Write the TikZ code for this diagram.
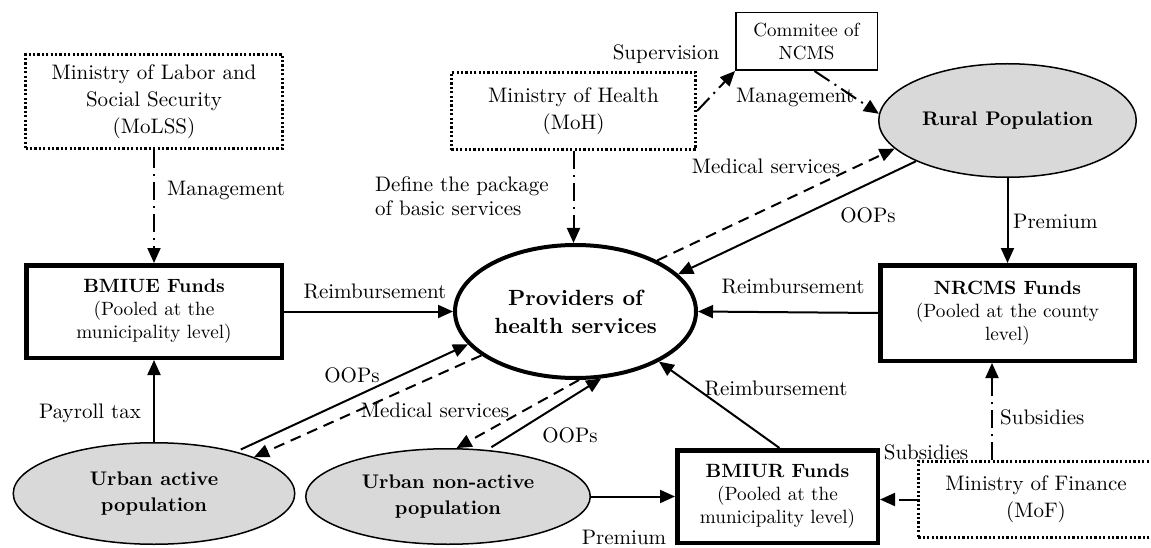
\documentclass[tikz,border=0pt]{standalone}
\usepackage{fontspec}
\setmainfont{lmroman10-regular.otf}[BoldFont=lmroman10-bold.otf, ItalicFont=lmroman10-italic.otf, BoldItalicFont=lmroman10-bolditalic.otf]
\usetikzlibrary{shapes.geometric,arrows.meta}
\definecolor{popgray}{RGB}{217,217,217}
\begin{document}
\begin{tikzpicture}[x=1pt,y=-1pt,
  lab/.style={font=\fontsize{21}{24}\selectfont, inner sep=0pt},
  minbox/.style={draw, line width=2.6pt, dash pattern=on 2.2pt off 2.2pt, align=center,
    font=\fontsize{21}{27}\selectfont, inner sep=0pt},
  fundbox/.style={draw, line width=4.5pt, align=center, font=\fontsize{19.2}{23}\selectfont, inner sep=0pt},
  smallbox/.style={draw, line width=1.5pt, align=center, font=\fontsize{19}{23}\selectfont, inner sep=0pt},
  pop/.style={ellipse, draw, line width=1.5pt, fill=popgray, align=center,
    font=\fontsize{19.7}{26}\selectfont\bfseries, inner sep=0pt},
  provstyle/.style={ellipse, draw, line width=4pt, fill=white, align=center,
    font=\fontsize{22}{28}\selectfont\bfseries, inner sep=0pt},
  arr/.style={line width=2pt, -{Triangle[length=15pt,width=13pt]}},
  dd/.style={arr, dash pattern=on 18pt off 6pt on 2pt off 6pt},
  med/.style={arr, dash pattern=on 11pt off 7pt}
]
\useasboundingbox (0,0) rectangle (1151,548);
\clip (0,0) rectangle (1151,548);

% boxes
\node[minbox, minimum width=257pt, minimum height=94pt] (molss) at (154,101.5) {Ministry of Labor and\\Social Security\\(MoLSS)};
\node[minbox, minimum width=244.4pt, minimum height=77.4pt] (moh) at (573.5,111) {Ministry of Health\\(MoH)};
\node[minbox, minimum width=235.4pt, minimum height=76.4pt] (mof) at (1036,499.5) {Ministry of Finance\\(MoF)};
\node[smallbox, minimum width=141.5pt, minimum height=57.5pt] (comm) at (806.5,41.5) {Commitee of\\NCMS};
\node[fundbox, minimum width=255.5pt, minimum height=92.5pt] (bmiue) at (154,311.5) {\textbf{BMIUE Funds}\\(Pooled at the\\municipality level)};
\node[fundbox, minimum width=254.5pt, minimum height=95.5pt] (nrcms) at (1007.5,313) {\textbf{NRCMS Funds}\\(Pooled at the county\\level)};
\node[fundbox, minimum width=200.5pt, minimum height=92.5pt] (bmiur) at (777.5,496.5) {\textbf{BMIUR Funds}\\(Pooled at the\\municipality level)};

% ellipses
\node[pop, minimum width=257.5pt, minimum height=113.5pt] (rural) at (1007.5,120.5) {Rural Population};
\node[provstyle, minimum width=241pt, minimum height=133pt] (prov) at (575.5,311.5) {Providers of\\health services};
\node[pop, minimum width=281.5pt, minimum height=101.5pt] (ua) at (154,493.5) {Urban active\\population};
\node[pop, minimum width=284.5pt, minimum height=95.5pt] (un) at (448,496.5) {Urban non-active\\population};

% connectors
\draw[dd] (molss.south) -- (bmiue.north);
\draw[arr] (bmiue.east) -- (prov.west);
\draw[arr] (nrcms.west) -- (prov.east);
\draw[arr] (ua.north) -- (bmiue.south);
\draw[arr] (rural.south) -- (nrcms.north);
\coordinate (mofup) at ([xshift=75pt]mof.north west);
\draw[dd] (mofup) -- (mofup |- nrcms.south);
\draw[dd] (mof.west) -- (mof.west -| bmiur.east);
\draw[arr] (un.east) -- (un.east -| bmiur.west);
\draw[arr] ([xshift=2pt]bmiur.north) -- (prov.329);
\draw[dd] (moh.south) -- (moh.south |- prov.north);
\draw[dd] (moh.east) -- (comm.south west);
\draw[dd] ([xshift=8pt]comm.south) -- (rural.177);
\draw[arr] (rural.204) -- (prov.20);
\draw[med] (prov.32) -- (rural.194);
\draw[arr, shorten <=5pt] (ua.27) -- (prov.197);
\draw[med] (prov.205) -- (ua.20);
\draw[arr, shorten <=5pt] (un.50) -- (prov.291);
\draw[med] (prov.273) -- (un.80);

% labels
\node[lab, anchor=west] (l1) at (167,190) {Management};
\node[lab, anchor=west, align=left] (l2) at (375,196) {Define the package\\of basic services};
\node[lab] (l3) at (666,54) {Supervision};
\node[lab] (l4) at (795,97) {Management};
\node[lab] (l5) at (766,166) {Medical services};
\node[lab] (l6) at (868,215) {OOPs};
\node[lab, anchor=west] (l7) at (1013,221) {Premium};
\node[lab] (l8) at (793,286) {Reimbursement};
\node[lab] (l9) at (375,291) {Reimbursement};
\node[lab] (l10) at (352,375) {OOPs};
\node[lab] (l11) at (435,410) {Medical services};
\node[lab] (l12) at (570,435) {OOPs};
\node[lab] (l13) at (90,413) {Payroll tax};
\node[lab] (l14) at (776,388) {Reimbursement};
\node[lab] (l15) at (624,537) {Premium};
\node[lab] (l16) at (926,452) {Subsidies};
\node[lab, anchor=west] (l17) at (1000,417) {Subsidies};
\end{tikzpicture}
\end{document}
